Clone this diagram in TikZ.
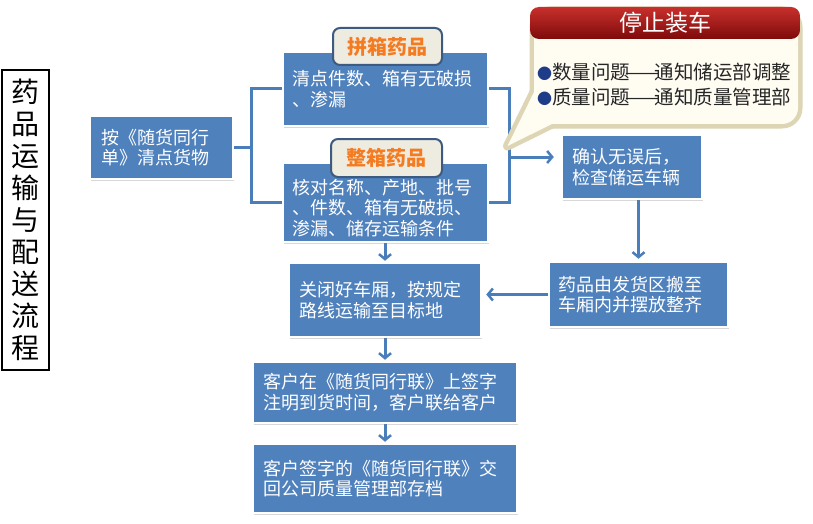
\documentclass[tikz,border=0pt]{standalone}
\usepackage{fontspec}
\setmainfont{Noto Sans CJK SC}
\usetikzlibrary{arrows.meta,shadows,calc}
\definecolor{boxblue}{HTML}{4F81BD}
\definecolor{linkblue}{HTML}{4A7EBB}
\definecolor{pillfill}{HTML}{EEEBE1}
\definecolor{pillborder}{HTML}{3D5A80}
\definecolor{pilltext}{HTML}{F47B20}
\definecolor{calloutfill}{HTML}{FFFCF2}
\definecolor{calloutborder}{HTML}{DDD5B4}
\definecolor{hdrtop}{HTML}{C8302C}
\definecolor{hdrbot}{HTML}{7E0A0A}
\definecolor{bulletblue}{HTML}{1F3C88}
\pgfdeclarelayer{bg}
\pgfdeclarelayer{paper}
\pgfsetlayers{paper,bg,main}
\newcommand{\longdash}{\kern-6pt\scalebox{2.1}[1]{—}\kern-6pt}
\begin{document}
\begin{tikzpicture}[x=1pt,y=-1pt,
 box/.style={rectangle, fill=boxblue, draw=white, line width=2.5pt, text=white, align=left,
   font=\fontsize{18}{20.5}\selectfont, inner ysep=0pt,
   drop shadow={opacity=0.3,shadow xshift=1pt,shadow yshift=-1.5pt}},
 boxtext/.style={text=white, align=left, font=\fontsize{18}{20.5}\selectfont, inner sep=0pt},
 pill/.style={rectangle, rounded corners=7pt, fill=pillfill, draw=pillborder, line width=2pt,
   text=pilltext, font=\fontsize{20}{21}\selectfont\bfseries, inner sep=0pt},
 link/.style={draw=linkblue, line width=3pt},
 arr/.style={link, -{Straight Barb[length=5pt,width=12pt,line width=2.5pt]}},
 bullettext/.style={anchor=west, font=\fontsize{19.5}{21}\selectfont, text=black!85, inner sep=0pt}
]
\begin{pgfonlayer}{paper}
\fill[white] (0,0) rectangle (813,524);
\end{pgfonlayer}
\useasboundingbox (0,0) rectangle (813,524);

% title
\node[draw=black, line width=1.2pt, fill=white, minimum width=47pt, minimum height=300pt,
  align=center, font=\fontsize{28}{32}\selectfont, inner sep=0pt] (title) at (25.5,220)
  {药\\品\\运\\输\\与\\配\\送\\流\\程};

% boxes
\node[box, inner xsep=11pt, text width=121pt, minimum height=63pt] (start) at (161.5,147.5)
  {按《随货同行\\单》清点货物};
\node[box, inner xsep=9pt, text width=187pt, minimum height=74pt] (pin) at (385.5,89)
  {清点件数、箱有无破损\\、渗漏};
\node[box, minimum width=205pt, minimum height=79pt] (zheng) at (385.5,202.5) {};
\node[boxtext, text width=187pt] (zhengtext) at (385.5,208)
  {核对名称、产地、批号\\、件数、箱有无破损、\\渗漏、储存运输条件};
\node[box, inner xsep=10pt, text width=120pt, minimum height=64pt] (check) at (632,167)
  {确认无误后，\\检查储运车辆};
\node[box, inner xsep=9pt, text width=161pt, minimum height=65pt] (yao) at (638.5,294.5)
  {药品由发货区搬至\\车厢内并摆放整齐};
\node[box, inner xsep=10pt, text width=172pt, minimum height=74pt] (guan) at (385,300)
  {关闭好车厢，按规定\\路线运输至目标地};
\node[box, inner xsep=10pt, text width=244pt, minimum height=61pt] (k1) at (385,392.5)
  {客户在《随货同行联》上签字\\注明到货时间，客户联给客户};
\node[box, inner xsep=10pt, text width=244pt, minimum height=69pt] (k2) at (385,478.5)
  {客户签字的《随货同行联》交\\回公司质量管理部存档};

% pills
\node[pill, minimum width=109pt, minimum height=37pt] (pinlab) at (387.5,46.5) {拼箱药品};
\node[pill, minimum width=111pt, minimum height=38pt] (zhenglab) at (386.5,158) {整箱药品};

% connectors
\begin{pgfonlayer}{bg}
\coordinate (lb) at (253,147.5);
\draw[link] (start.east) -- (lb);
\draw[link] (pin.west) -- ++(-30,0) -- ($(zheng.west)+(-30,0)$) -- (zheng.west);
\draw[link] (pin.east) -- ++(20,0) -- ($(zheng.east)+(20,0)$) -- (zheng.east);
\coordinate (rb) at (508,157);
\draw[arr, shorten >=7pt] (rb) -- (rb -| check.west);
\draw[arr, shorten >=2pt] (yao.north |- check.south) -- (yao.north);
\draw[arr, shorten >=4pt] (yao.west) -- (yao.west -| guan.east);
\draw[arr, shorten >=1pt] (guan.north |- zheng.south) -- (guan.north);
\draw[arr, shorten >=1pt] (guan.south) -- (k1.north);
\draw[arr, shorten >=1pt] (k1.south) -- (k2.north);
\end{pgfonlayer}

% callout
\draw[calloutborder, line width=9pt, rounded corners=16pt] (534,11) rectangle (798,124);
\draw[calloutborder, line width=9pt, line join=round] (507.5,146) -- (535,90) -- (556,122) -- cycle;
\fill[calloutfill, rounded corners=16pt] (534,11) rectangle (798,124);
\fill[calloutfill] (507.5,146) -- (535,90) -- (556,122) -- cycle;
\shade[top color=hdrtop, bottom color=hdrbot, rounded corners=9pt] (530,39) -- (530,7) -- (800,7) -- (800,39) -- cycle;
\node[font=\fontsize{23}{24}\selectfont, text=white] (hdr) at (665,23) {停止装车};
\node[bullettext] (q1) at (537,72) {\textcolor{bulletblue}{\fontsize{15}{15}\selectfont ●}数量问题\longdash 通知储运部调整};
\node[bullettext] (q2) at (537,97) {\textcolor{bulletblue}{\fontsize{15}{15}\selectfont ●}质量问题\longdash 通知质量管理部};
\end{tikzpicture}
\end{document}
